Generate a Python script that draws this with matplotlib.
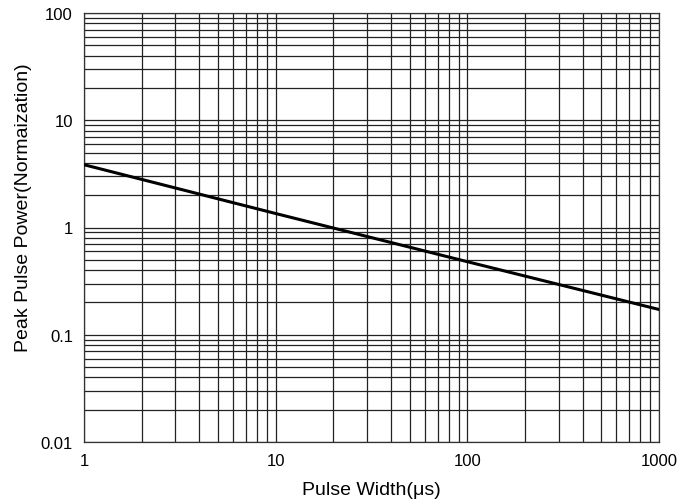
import matplotlib.pyplot as plt
from matplotlib.ticker import LogLocator, FixedLocator, FixedFormatter, NullFormatter

plt.rcParams['font.family'] = ['Liberation Sans', 'DejaVu Sans']

# data
pulse_width = [1, 10, 100, 1000]
peak_power = [3.85, 1.35, 0.48, 0.172]

x_ticks = [1, 10, 100, 1000]
x_labels = ["1", "10", "100", "1000"]
y_ticks = [0.01, 0.1, 1, 10, 100]
y_labels = ["0.01", "0.1", "1", "10", "100"]

fig = plt.figure(figsize=(6.98, 5.02), dpi=100)
ax = fig.add_axes([84 / 698, 59 / 502, 575 / 698, 429 / 502])

ax.set_xscale("log")
ax.set_yscale("log")
ax.set_xlim(1, 1000)
ax.set_ylim(0.01, 100)

ax.plot(pulse_width, peak_power, color="black", linewidth=2.2, zorder=3)

ax.xaxis.set_major_locator(FixedLocator(x_ticks))
ax.xaxis.set_major_formatter(FixedFormatter(x_labels))
ax.yaxis.set_major_locator(FixedLocator(y_ticks))
ax.yaxis.set_major_formatter(FixedFormatter(y_labels))
ax.xaxis.set_minor_locator(LogLocator(base=10, subs=range(2, 10)))
ax.yaxis.set_minor_locator(LogLocator(base=10, subs=range(2, 10)))
ax.xaxis.set_minor_formatter(NullFormatter())
ax.yaxis.set_minor_formatter(NullFormatter())

ax.grid(True, which="both", color="#222222", linewidth=0.9)
ax.tick_params(which="both", length=0, labelsize=12, pad=8)
for s in ax.spines.values():
    s.set_color("#333333")
    s.set_linewidth(0.9)

ax.set_xlabel("Pulse Width(μs)", fontsize=14, labelpad=9)
ax.set_ylabel("Peak Pulse Power(Normaization)", fontsize=14, va="center")
ax.yaxis.set_label_coords(-0.105, 0.549)

fig.savefig("out.png", dpi=100)
